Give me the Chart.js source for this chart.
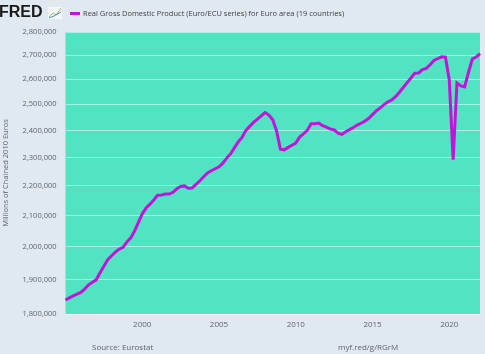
<!DOCTYPE html>
<html>
<head>
<meta charset="utf-8">
<script src="https://cdn.jsdelivr.net/npm/chart.js@4.4.1/dist/chart.umd.min.js"></script>
<style>
  html, body { margin: 0; padding: 0; background: #e1e9f0; }
  #wrap { position: relative; width: 485px; height: 354px; }
</style>
</head>
<body>
<div id="wrap"><canvas id="chart" width="485" height="354"></canvas></div>
<script>
// Quarterly observations, 1995 Q1 .. 2022 Q1
const quarters = [
  '1995-Q1','1995-Q2','1995-Q3','1995-Q4','1996-Q1','1996-Q2','1996-Q3','1996-Q4',
  '1997-Q1','1997-Q2','1997-Q3','1997-Q4','1998-Q1','1998-Q2','1998-Q3','1998-Q4',
  '1999-Q1','1999-Q2','1999-Q3','1999-Q4','2000-Q1','2000-Q2','2000-Q3','2000-Q4',
  '2001-Q1','2001-Q2','2001-Q3','2001-Q4','2002-Q1','2002-Q2','2002-Q3','2002-Q4',
  '2003-Q1','2003-Q2','2003-Q3','2003-Q4','2004-Q1','2004-Q2','2004-Q3','2004-Q4',
  '2005-Q1','2005-Q2','2005-Q3','2005-Q4','2006-Q1','2006-Q2','2006-Q3','2006-Q4',
  '2007-Q1','2007-Q2','2007-Q3','2007-Q4','2008-Q1','2008-Q2','2008-Q3','2008-Q4',
  '2009-Q1','2009-Q2','2009-Q3','2009-Q4','2010-Q1','2010-Q2','2010-Q3','2010-Q4',
  '2011-Q1','2011-Q2','2011-Q3','2011-Q4','2012-Q1','2012-Q2','2012-Q3','2012-Q4',
  '2013-Q1','2013-Q2','2013-Q3','2013-Q4','2014-Q1','2014-Q2','2014-Q3','2014-Q4',
  '2015-Q1','2015-Q2','2015-Q3','2015-Q4','2016-Q1','2016-Q2','2016-Q3','2016-Q4',
  '2017-Q1','2017-Q2','2017-Q3','2017-Q4','2018-Q1','2018-Q2','2018-Q3','2018-Q4',
  '2019-Q1','2019-Q2','2019-Q3','2019-Q4','2020-Q1','2020-Q2','2020-Q3','2020-Q4',
  '2021-Q1','2021-Q2','2021-Q3','2021-Q4','2022-Q1'
];

// Millions of chained 2010 euros
const gdpValues = [
  1840000, 1846000, 1852000, 1857000, 1862000, 1872000, 1884000, 1892000,
  1899000, 1920000, 1940000, 1960000, 1972000, 1983000, 1993000, 1998000,
  2015000, 2028000, 2050000, 2078000, 2106000, 2125000, 2138000, 2152000,
  2168000, 2169000, 2172000, 2172000, 2178000, 2190000, 2198000, 2200000,
  2192000, 2193000, 2205000, 2218000, 2232000, 2245000, 2253000, 2260000,
  2267000, 2280000, 2298000, 2313000, 2335000, 2357000, 2374000, 2400000,
  2415000, 2430000, 2443000, 2455000, 2468000, 2458000, 2440000, 2398000,
  2330000, 2328000, 2337000, 2345000, 2353000, 2375000, 2387000, 2400000,
  2425000, 2425000, 2428000, 2418000, 2412000, 2405000, 2402000, 2390000,
  2385000, 2395000, 2403000, 2411000, 2420000, 2427000, 2435000, 2446000,
  2460000, 2475000, 2486000, 2499000, 2510000, 2517000, 2530000, 2548000,
  2567000, 2586000, 2605000, 2625000, 2626000, 2640000, 2645000, 2660000,
  2678000, 2686000, 2693000, 2692000, 2596000, 2292000, 2585000, 2573000,
  2569000, 2628000, 2684000, 2692000, 2707000
];

const yTicks = [1800000, 1900000, 2000000, 2100000, 2200000, 2300000,
                2400000, 2500000, 2600000, 2700000, 2800000];
const xTickYears = ['2000', '2005', '2010', '2015', '2020'];

const seriesTitle = 'Real Gross Domestic Product (Euro/ECU series) for Euro area (19 countries)';
const yAxisTitle = 'Millions of Chained 2010 Euros';
const sourceNote = 'Source: Eurostat';
const linkNote = 'myf.red/g/RGrM';

const LINE_COLOR = '#c214d9';
const TEXT_COLOR = '#5d636a';
const FONT = '"Open Sans", "Noto Sans", sans-serif';

// Plot background + header/footer text drawn on the canvas
const fredDecor = {
  id: 'fredDecor',
  beforeDraw(chart) {
    const { ctx, chartArea: a } = chart;
    ctx.save();
    ctx.fillStyle = '#e1e9f0';
    ctx.fillRect(0, 0, chart.width, chart.height);
    ctx.fillStyle = '#52e3c2';
    ctx.fillRect(a.left, a.top, a.right - a.left, a.bottom - a.top);
    ctx.restore();
  },
  afterDraw(chart) {
    const { ctx, chartArea: a } = chart;
    ctx.save();

    // FRED logo
    ctx.fillStyle = '#1a1a1a';
    ctx.font = 'bold 16px "Liberation Sans", Arial, sans-serif';
    ctx.textBaseline = 'middle';
    ctx.textAlign = 'left';
    ctx.fillText('FRED', -1, 13);
    // tiny graph icon
    ctx.fillStyle = '#f4f7f9';
    ctx.fillRect(48, 7, 14, 12);
    ctx.strokeStyle = '#9bc25a';
    ctx.lineWidth = 1;
    ctx.beginPath();
    ctx.moveTo(49, 17); ctx.lineTo(53, 13); ctx.lineTo(56, 15); ctx.lineTo(61, 8);
    ctx.stroke();
    ctx.strokeStyle = '#4a90c8';
    ctx.beginPath();
    ctx.moveTo(49, 18); ctx.lineTo(54, 16); ctx.lineTo(61, 12);
    ctx.stroke();

    // legend swatch + series title
    ctx.fillStyle = LINE_COLOR;
    ctx.fillRect(70, 12, 10, 3);
    ctx.fillStyle = '#3a3f45';
    ctx.font = '7.5px ' + FONT;
    ctx.fillText(seriesTitle, 83, 13.5);

    // rotated y title
    ctx.fillStyle = TEXT_COLOR;
    ctx.font = '7.5px ' + FONT;
    ctx.translate(6, (a.top + a.bottom) / 2);
    ctx.rotate(-Math.PI / 2);
    ctx.textAlign = 'center';
    ctx.fillText(yAxisTitle, 0, 0);
    ctx.setTransform(1, 0, 0, 1, 0, 0);

    // footer
    ctx.textAlign = 'left';
    ctx.font = '8px ' + FONT;
    ctx.fillText(sourceNote, 92, 348);
    ctx.fillText(linkNote, 338, 348);
    ctx.restore();
  }
};

new Chart(document.getElementById('chart'), {
  type: 'line',
  data: {
    labels: quarters,
    datasets: [{
      label: seriesTitle,
      data: gdpValues,
      borderColor: LINE_COLOR,
      borderWidth: 3,
      pointRadius: 0,
      tension: 0,
      fill: false
    }]
  },
  options: {
    responsive: false,
    animation: false,
    devicePixelRatio: 1,
    layout: { padding: { top: 32, right: 5, bottom: 0, left: 0 } },
    plugins: {
      legend: { display: false },
      tooltip: { enabled: false }
    },
    scales: {
      x: {
        type: 'category',
        offset: false,
        grid: { display: false, drawTicks: false },
        border: { display: false },
        afterFit(scale) { scale.height = 40; },
        ticks: {
          autoSkip: false,
          maxRotation: 0,
          padding: 6,
          color: TEXT_COLOR,
          font: { family: FONT, size: 8 },
          callback(value) {
            const q = quarters[value];
            const yr = q.slice(0, 4);
            return (q.endsWith('Q1') && xTickYears.includes(yr)) ? yr : null;
          }
        }
      },
      y: {
        type: 'logarithmic',
        min: 1800000,
        max: 2800000,
        afterFit(scale) { scale.width = 65.5; },
        afterBuildTicks(scale) {
          scale.ticks = yTicks.map(v => ({ value: v }));
        },
        grid: {
          color: 'rgba(255, 255, 255, 0.5)',
          lineWidth: 1,
          drawTicks: false
        },
        border: { display: false },
        ticks: {
          padding: 9,
          color: TEXT_COLOR,
          font: { family: FONT, size: 7.5 },
          callback(value) {
            return Number(value).toLocaleString('en-US');
          }
        }
      }
    }
  },
  plugins: [fredDecor]
});
</script>
</body>
</html>
